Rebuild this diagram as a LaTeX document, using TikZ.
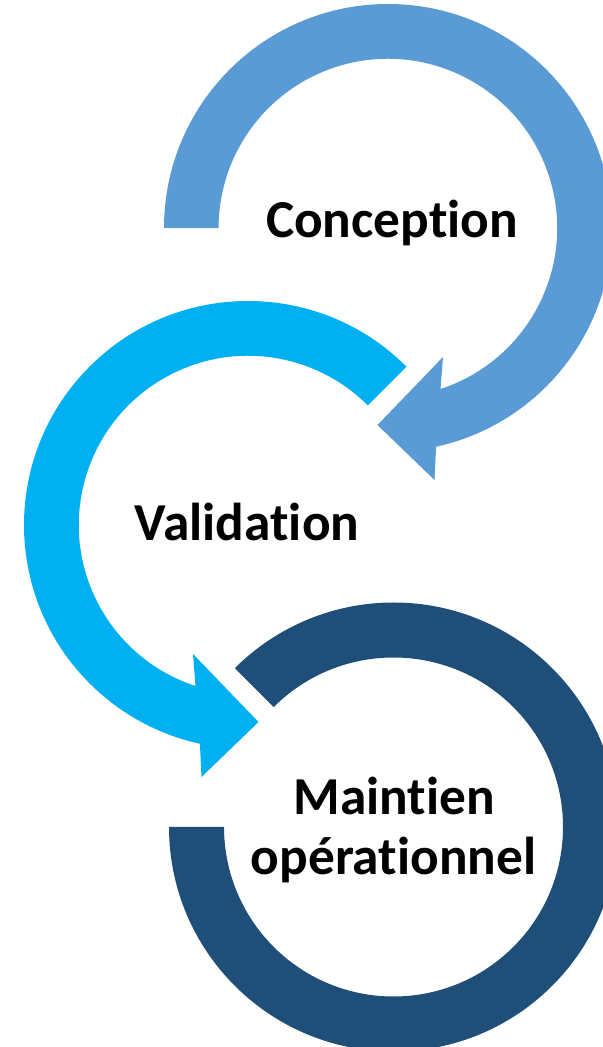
\documentclass[tikz,border=0pt]{standalone}
\usepackage{fontspec}
\setmainfont{Carlito}[Ligatures={NoCommon,NoRare}]
\usetikzlibrary{calc}
\definecolor{cA}{HTML}{5B9BD5}
\definecolor{cB}{HTML}{00B0F0}
\definecolor{cC}{HTML}{1F4E79}
\begin{document}
\begin{tikzpicture}[x=0.75pt,y=0.75pt,
  lbl/.style={font=\fontsize{40}{45}\selectfont\bfseries, anchor=base, inner sep=0pt, text=black}]
\clip (0,0) rectangle (603,1047);
\coordinate (c1) at (388,819);
\coordinate (c2) at (248,522);
\coordinate (c3) at (393.5,220);
% top arrow
\fill[cA] ($(c1)+(180:224)$) arc[start angle=180, end angle=-77.6, radius=224]
  -- ($(c1)+(46.5,-252)$) -- ($(c1)+(-10.5,-197)$) -- ($(c1)+(55,-129)$)
  -- ($(c1)+(52.5,-161)$) arc[start angle=-71.9, end angle=180, radius=169.3] -- cycle;
% middle arrow
\fill[cB] ($(c2)+(45:224)$) arc[start angle=45, end angle=257.6, radius=224]
  -- ($(c2)+(-46.5,-252)$) -- ($(c2)+(10.5,-197)$) -- ($(c2)+(-55,-129)$)
  -- ($(c2)+(-52.5,-161)$) arc[start angle=251.9, end angle=45, radius=169.3] -- cycle;
% bottom ring
\fill[cC] ($(c3)+(180:224.5)$) arc[start angle=180, end angle=495, radius=224.5]
  -- ($(c3)+(135:169.5)$) arc[start angle=135, end angle=-180, radius=169.5] -- cycle;
% labels
\node[lbl] (conc) at (392,809) {Conception};
\node[lbl] (valid) at (247,506) {Validation};
\node[lbl] (maint) at (394,232) {Maintien};
\node[lbl] (oper) at (393.5,172) {opérationnel};
\end{tikzpicture}
\end{document}
